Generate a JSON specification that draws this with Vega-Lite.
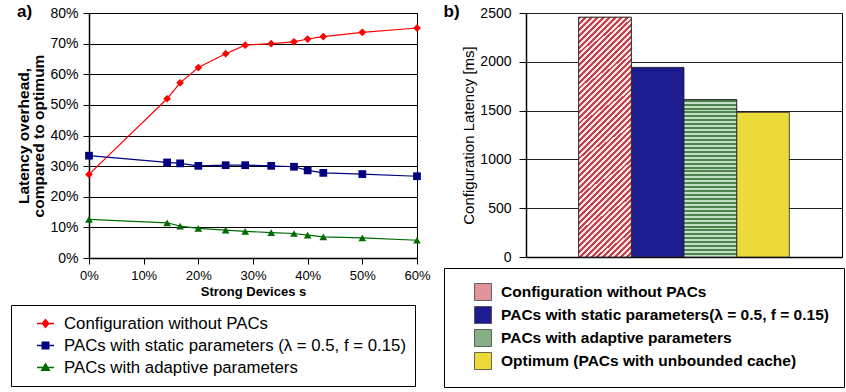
{
  "$schema": "https://vega.github.io/schema/vega-lite/v6.json",
  "padding": {"left": 10, "top": 2, "right": 0, "bottom": 0},
  "background": "white",
  "config": {
    "font": "Liberation Sans",
    "view": {"stroke": "#000", "strokeWidth": 1},
    "axis": {"domainColor": "#000", "tickColor": "#000", "gridColor": "#000", "labelColor": "#000", "titleColor": "#000", "labelFont": "Liberation Sans", "titleFont": "Liberation Sans", "domainWidth": 1.5, "tickWidth": 1},
    "legend": {"labelFont": "Liberation Sans", "labelColor": "#000"},
    "title": {"font": "Liberation Sans", "fontWeight": "bold", "fontSize": 17, "anchor": "start", "frame": "bounds", "color": "#000"}
  },
  "resolve": {"scale": {"color": "independent", "shape": "independent", "x": "independent", "y": "independent"}, "legend": {"color": "independent", "shape": "independent"}},
  "spacing": 12,
  "hconcat": [
    {
      "title": {"text": "a)", "dy": 15, "offset": 0},
      "width": 328,
      "height": 245,
      "data": {"values": [
        {"s": 0, "series": "Configuration without PACs", "overhead": 0.273},
        {"s": 0.1429, "series": "Configuration without PACs", "overhead": 0.52},
        {"s": 0.1667, "series": "Configuration without PACs", "overhead": 0.572},
        {"s": 0.2, "series": "Configuration without PACs", "overhead": 0.622},
        {"s": 0.25, "series": "Configuration without PACs", "overhead": 0.667},
        {"s": 0.2857, "series": "Configuration without PACs", "overhead": 0.695},
        {"s": 0.3333, "series": "Configuration without PACs", "overhead": 0.700},
        {"s": 0.375, "series": "Configuration without PACs", "overhead": 0.706},
        {"s": 0.4, "series": "Configuration without PACs", "overhead": 0.715},
        {"s": 0.4286, "series": "Configuration without PACs", "overhead": 0.723},
        {"s": 0.5, "series": "Configuration without PACs", "overhead": 0.737},
        {"s": 0.6, "series": "Configuration without PACs", "overhead": 0.751},
        {"s": 0, "series": "PACs with static parameters (λ = 0.5, f = 0.15)", "overhead": 0.334},
        {"s": 0.1429, "series": "PACs with static parameters (λ = 0.5, f = 0.15)", "overhead": 0.312},
        {"s": 0.1667, "series": "PACs with static parameters (λ = 0.5, f = 0.15)", "overhead": 0.309},
        {"s": 0.2, "series": "PACs with static parameters (λ = 0.5, f = 0.15)", "overhead": 0.301},
        {"s": 0.25, "series": "PACs with static parameters (λ = 0.5, f = 0.15)", "overhead": 0.303},
        {"s": 0.2857, "series": "PACs with static parameters (λ = 0.5, f = 0.15)", "overhead": 0.303},
        {"s": 0.3333, "series": "PACs with static parameters (λ = 0.5, f = 0.15)", "overhead": 0.301},
        {"s": 0.375, "series": "PACs with static parameters (λ = 0.5, f = 0.15)", "overhead": 0.298},
        {"s": 0.4, "series": "PACs with static parameters (λ = 0.5, f = 0.15)", "overhead": 0.286},
        {"s": 0.4286, "series": "PACs with static parameters (λ = 0.5, f = 0.15)", "overhead": 0.278},
        {"s": 0.5, "series": "PACs with static parameters (λ = 0.5, f = 0.15)", "overhead": 0.274},
        {"s": 0.6, "series": "PACs with static parameters (λ = 0.5, f = 0.15)", "overhead": 0.267},
        {"s": 0, "series": "PACs with adaptive parameters", "overhead": 0.126},
        {"s": 0.1429, "series": "PACs with adaptive parameters", "overhead": 0.115},
        {"s": 0.1667, "series": "PACs with adaptive parameters", "overhead": 0.104},
        {"s": 0.2, "series": "PACs with adaptive parameters", "overhead": 0.097},
        {"s": 0.25, "series": "PACs with adaptive parameters", "overhead": 0.091},
        {"s": 0.2857, "series": "PACs with adaptive parameters", "overhead": 0.087},
        {"s": 0.3333, "series": "PACs with adaptive parameters", "overhead": 0.083},
        {"s": 0.375, "series": "PACs with adaptive parameters", "overhead": 0.080},
        {"s": 0.4, "series": "PACs with adaptive parameters", "overhead": 0.075},
        {"s": 0.4286, "series": "PACs with adaptive parameters", "overhead": 0.069},
        {"s": 0.5, "series": "PACs with adaptive parameters", "overhead": 0.066},
        {"s": 0.6, "series": "PACs with adaptive parameters", "overhead": 0.058}
      ]},
      "encoding": {
        "x": {"field": "s", "type": "quantitative",
          "scale": {"domain": [0, 0.6], "nice": false, "zero": false},
          "axis": {"format": ".0%", "values": [0, 0.1, 0.2, 0.3, 0.4, 0.5, 0.6], "grid": false, "tickSize": 6, "labelFontSize": 13, "labelPadding": 5, "labelFlush": false, "title": "Strong Devices s", "titleFontSize": 13, "titleFontWeight": "bold", "titlePadding": 3}},
        "y": {"field": "overhead", "type": "quantitative",
          "scale": {"domain": [0, 0.8], "nice": false},
          "axis": {"format": ".0%", "values": [0, 0.1, 0.2, 0.3, 0.4, 0.5, 0.6, 0.7, 0.8], "grid": true, "gridColor": "#000", "gridWidth": 1, "tickSize": 6, "labelFontSize": 14, "labelPadding": 5, "title": ["Latency overhead,", "compared to optimum"], "titleFontSize": 15.5, "titleFontWeight": "bold", "titleLineHeight": 15, "titlePadding": 3}}
      },
      "layer": [
        {"mark": {"type": "line", "strokeWidth": 1.2},
         "encoding": {"color": {"field": "series", "type": "nominal",
           "scale": {"domain": ["Configuration without PACs", "PACs with static parameters (λ = 0.5, f = 0.15)", "PACs with adaptive parameters"], "range": ["#ff0000", "#000080", "#006b00"]},
           "legend": null}}},
        {"transform": [{"filter": "datum.series === 'Configuration without PACs'"}],
         "mark": {"type": "point", "shape": "diamond", "filled": true, "size": 60, "opacity": 1},
         "encoding": {"color": {"field": "series", "type": "nominal", "legend": null}}},
        {"transform": [{"filter": "datum.series === 'PACs with static parameters (λ = 0.5, f = 0.15)'"}],
         "mark": {"type": "point", "shape": "square", "filled": true, "size": 60, "opacity": 1},
         "encoding": {"color": {"field": "series", "type": "nominal", "legend": null}}},
        {"transform": [{"filter": "datum.series === 'PACs with adaptive parameters'"}],
         "mark": {"type": "point", "shape": "triangle-up", "filled": true, "size": 60, "opacity": 1},
         "encoding": {"color": {"field": "series", "type": "nominal", "legend": null}}},
        {"transform": [{"filter": "datum.s < 0"}],
         "mark": {"type": "point", "filled": false, "size": 60, "opacity": 1, "strokeWidth": 1.5},
         "encoding": {
           "stroke": {"field": "series", "type": "nominal",
             "scale": {"domain": ["Configuration without PACs", "PACs with static parameters (λ = 0.5, f = 0.15)", "PACs with adaptive parameters"], "range": ["#ff0000", "#000080", "#006b00"]},
             "legend": {"orient": "none", "legendX": -78, "legendY": 292, "title": null, "strokeColor": "#000", "fillColor": "#fff", "padding": 9, "symbolOffset": 16, "labelFontSize": 16.8, "labelOffset": 9, "symbolSize": 289, "symbolStrokeWidth": 1.5, "rowPadding": 3, "labelLimit": 1000,
               "symbolType": {"expr": "datum.value === 'Configuration without PACs' ? 'M-1,0H1M0,-0.45L0.38,0L0,0.45L-0.38,0ZM0,-0.3L0.25,0L0,0.3L-0.25,0ZM0,-0.15L0.12,0L0,0.15L-0.12,0Z' : datum.value === 'PACs with adaptive parameters' ? 'M-1,0H1M0,-0.42L0.44,0.32L-0.44,0.32ZM0,-0.24L0.25,0.18L-0.25,0.18ZM0,-0.08L0.08,0.06L-0.08,0.06Z' : 'M-1,0H1M-0.38,-0.38H0.38V0.38H-0.38ZM-0.25,-0.25H0.25V0.25H-0.25ZM-0.12,-0.12H0.12V0.12H-0.12Z'"}}}
         }}
      ]
    },
    {
      "title": {"text": "b)", "dy": 15, "offset": 0},
      "width": 316,
      "height": 244,
      "data": {"values": [
        {"series": "Configuration without PACs", "latency": 2456},
        {"series": "PACs with static parameters(λ = 0.5, f = 0.15)", "latency": 1943},
        {"series": "PACs with adaptive parameters", "latency": 1612},
        {"series": "Optimum (PACs with unbounded cache)", "latency": 1482}
      ]},
      "encoding": {
        "x": {"field": "series", "type": "nominal", "sort": null,
          "scale": {"domain": ["Configuration without PACs", "PACs with static parameters(λ = 0.5, f = 0.15)", "PACs with adaptive parameters", "Optimum (PACs with unbounded cache)"], "paddingInner": 0, "paddingOuter": 1.01},
          "axis": {"labels": false, "ticks": false, "title": null, "grid": false}},
        "y": {"field": "latency", "type": "quantitative",
          "scale": {"domain": [0, 2500], "nice": false},
          "axis": {"values": [0, 500, 1000, 1500, 2000, 2500], "format": "d", "grid": true, "gridColor": "#222", "tickSize": 7, "labelFontSize": 14, "labelPadding": 8, "title": "Configuration Latency [ms]", "titleFontSize": 15, "titleFontWeight": "normal", "titlePadding": 3}}
      },
      "layer": [
        {
          "mark": {"type": "bar", "stroke": "#222", "strokeWidth": 0.8},
          "encoding": {
            "color": {"field": "series", "type": "nominal",
              "scale": {"domain": ["Configuration without PACs", "PACs with static parameters(λ = 0.5, f = 0.15)", "PACs with adaptive parameters", "Optimum (PACs with unbounded cache)"], "range": ["#e0959b", "#1c1c8e", "#86af86", "#ecda3a"]},
              "legend": {"orient": "none", "legendX": -82, "legendY": 255, "title": null, "strokeColor": "#000", "fillColor": "#fff", "padding": 15, "symbolOffset": 15, "labelFontSize": 15.5, "labelFontWeight": "bold", "labelOffset": 9, "symbolType": "square", "symbolSize": 289, "symbolStrokeColor": "#444", "symbolStrokeWidth": 0.8, "rowPadding": 1, "labelLimit": 1000}
            }
          }
        },
        {
          "transform": [{"filter": "datum.series === 'Configuration without PACs'"}],
          "mark": {"type": "bar", "stroke": "#222", "strokeWidth": 0.8,
            "fill": {"gradient": "linear", "x1": 0, "y1": 0, "x2": 0.2527, "y2": 1.1625, "stops": [
              {"offset": 0, "color": "#c8404c"}, {"offset": 0.01, "color": "#c8404c"}, {"offset": 0.01, "color": "#f7e8e8"}, {"offset": 0.02, "color": "#f7e8e8"},
              {"offset": 0.02, "color": "#c8404c"}, {"offset": 0.03, "color": "#c8404c"}, {"offset": 0.03, "color": "#f7e8e8"}, {"offset": 0.04, "color": "#f7e8e8"},
              {"offset": 0.04, "color": "#c8404c"}, {"offset": 0.05, "color": "#c8404c"}, {"offset": 0.05, "color": "#f7e8e8"}, {"offset": 0.06, "color": "#f7e8e8"},
              {"offset": 0.06, "color": "#c8404c"}, {"offset": 0.07, "color": "#c8404c"}, {"offset": 0.07, "color": "#f7e8e8"}, {"offset": 0.08, "color": "#f7e8e8"},
              {"offset": 0.08, "color": "#c8404c"}, {"offset": 0.09, "color": "#c8404c"}, {"offset": 0.09, "color": "#f7e8e8"}, {"offset": 0.10, "color": "#f7e8e8"},
              {"offset": 0.10, "color": "#c8404c"}, {"offset": 0.11, "color": "#c8404c"}, {"offset": 0.11, "color": "#f7e8e8"}, {"offset": 0.12, "color": "#f7e8e8"},
              {"offset": 0.12, "color": "#c8404c"}, {"offset": 0.13, "color": "#c8404c"}, {"offset": 0.13, "color": "#f7e8e8"}, {"offset": 0.14, "color": "#f7e8e8"},
              {"offset": 0.14, "color": "#c8404c"}, {"offset": 0.15, "color": "#c8404c"}, {"offset": 0.15, "color": "#f7e8e8"}, {"offset": 0.16, "color": "#f7e8e8"},
              {"offset": 0.16, "color": "#c8404c"}, {"offset": 0.17, "color": "#c8404c"}, {"offset": 0.17, "color": "#f7e8e8"}, {"offset": 0.18, "color": "#f7e8e8"},
              {"offset": 0.18, "color": "#c8404c"}, {"offset": 0.19, "color": "#c8404c"}, {"offset": 0.19, "color": "#f7e8e8"}, {"offset": 0.20, "color": "#f7e8e8"},
              {"offset": 0.20, "color": "#c8404c"}, {"offset": 0.21, "color": "#c8404c"}, {"offset": 0.21, "color": "#f7e8e8"}, {"offset": 0.22, "color": "#f7e8e8"},
              {"offset": 0.22, "color": "#c8404c"}, {"offset": 0.23, "color": "#c8404c"}, {"offset": 0.23, "color": "#f7e8e8"}, {"offset": 0.24, "color": "#f7e8e8"},
              {"offset": 0.24, "color": "#c8404c"}, {"offset": 0.25, "color": "#c8404c"}, {"offset": 0.25, "color": "#f7e8e8"}, {"offset": 0.26, "color": "#f7e8e8"},
              {"offset": 0.26, "color": "#c8404c"}, {"offset": 0.27, "color": "#c8404c"}, {"offset": 0.27, "color": "#f7e8e8"}, {"offset": 0.28, "color": "#f7e8e8"},
              {"offset": 0.28, "color": "#c8404c"}, {"offset": 0.29, "color": "#c8404c"}, {"offset": 0.29, "color": "#f7e8e8"}, {"offset": 0.30, "color": "#f7e8e8"},
              {"offset": 0.30, "color": "#c8404c"}, {"offset": 0.31, "color": "#c8404c"}, {"offset": 0.31, "color": "#f7e8e8"}, {"offset": 0.32, "color": "#f7e8e8"},
              {"offset": 0.32, "color": "#c8404c"}, {"offset": 0.33, "color": "#c8404c"}, {"offset": 0.33, "color": "#f7e8e8"}, {"offset": 0.34, "color": "#f7e8e8"},
              {"offset": 0.34, "color": "#c8404c"}, {"offset": 0.35, "color": "#c8404c"}, {"offset": 0.35, "color": "#f7e8e8"}, {"offset": 0.36, "color": "#f7e8e8"},
              {"offset": 0.36, "color": "#c8404c"}, {"offset": 0.37, "color": "#c8404c"}, {"offset": 0.37, "color": "#f7e8e8"}, {"offset": 0.38, "color": "#f7e8e8"},
              {"offset": 0.38, "color": "#c8404c"}, {"offset": 0.39, "color": "#c8404c"}, {"offset": 0.39, "color": "#f7e8e8"}, {"offset": 0.40, "color": "#f7e8e8"},
              {"offset": 0.40, "color": "#c8404c"}, {"offset": 0.41, "color": "#c8404c"}, {"offset": 0.41, "color": "#f7e8e8"}, {"offset": 0.42, "color": "#f7e8e8"},
              {"offset": 0.42, "color": "#c8404c"}, {"offset": 0.43, "color": "#c8404c"}, {"offset": 0.43, "color": "#f7e8e8"}, {"offset": 0.44, "color": "#f7e8e8"},
              {"offset": 0.44, "color": "#c8404c"}, {"offset": 0.45, "color": "#c8404c"}, {"offset": 0.45, "color": "#f7e8e8"}, {"offset": 0.46, "color": "#f7e8e8"},
              {"offset": 0.46, "color": "#c8404c"}, {"offset": 0.47, "color": "#c8404c"}, {"offset": 0.47, "color": "#f7e8e8"}, {"offset": 0.48, "color": "#f7e8e8"},
              {"offset": 0.48, "color": "#c8404c"}, {"offset": 0.49, "color": "#c8404c"}, {"offset": 0.49, "color": "#f7e8e8"}, {"offset": 0.50, "color": "#f7e8e8"},
              {"offset": 0.50, "color": "#c8404c"}, {"offset": 0.51, "color": "#c8404c"}, {"offset": 0.51, "color": "#f7e8e8"}, {"offset": 0.52, "color": "#f7e8e8"},
              {"offset": 0.52, "color": "#c8404c"}, {"offset": 0.53, "color": "#c8404c"}, {"offset": 0.53, "color": "#f7e8e8"}, {"offset": 0.54, "color": "#f7e8e8"},
              {"offset": 0.54, "color": "#c8404c"}, {"offset": 0.55, "color": "#c8404c"}, {"offset": 0.55, "color": "#f7e8e8"}, {"offset": 0.56, "color": "#f7e8e8"},
              {"offset": 0.56, "color": "#c8404c"}, {"offset": 0.57, "color": "#c8404c"}, {"offset": 0.57, "color": "#f7e8e8"}, {"offset": 0.58, "color": "#f7e8e8"},
              {"offset": 0.58, "color": "#c8404c"}, {"offset": 0.59, "color": "#c8404c"}, {"offset": 0.59, "color": "#f7e8e8"}, {"offset": 0.60, "color": "#f7e8e8"},
              {"offset": 0.60, "color": "#c8404c"}, {"offset": 0.61, "color": "#c8404c"}, {"offset": 0.61, "color": "#f7e8e8"}, {"offset": 0.62, "color": "#f7e8e8"},
              {"offset": 0.62, "color": "#c8404c"}, {"offset": 0.63, "color": "#c8404c"}, {"offset": 0.63, "color": "#f7e8e8"}, {"offset": 0.64, "color": "#f7e8e8"},
              {"offset": 0.64, "color": "#c8404c"}, {"offset": 0.65, "color": "#c8404c"}, {"offset": 0.65, "color": "#f7e8e8"}, {"offset": 0.66, "color": "#f7e8e8"},
              {"offset": 0.66, "color": "#c8404c"}, {"offset": 0.67, "color": "#c8404c"}, {"offset": 0.67, "color": "#f7e8e8"}, {"offset": 0.68, "color": "#f7e8e8"},
              {"offset": 0.68, "color": "#c8404c"}, {"offset": 0.69, "color": "#c8404c"}, {"offset": 0.69, "color": "#f7e8e8"}, {"offset": 0.70, "color": "#f7e8e8"},
              {"offset": 0.70, "color": "#c8404c"}, {"offset": 0.71, "color": "#c8404c"}, {"offset": 0.71, "color": "#f7e8e8"}, {"offset": 0.72, "color": "#f7e8e8"},
              {"offset": 0.72, "color": "#c8404c"}, {"offset": 0.73, "color": "#c8404c"}, {"offset": 0.73, "color": "#f7e8e8"}, {"offset": 0.74, "color": "#f7e8e8"},
              {"offset": 0.74, "color": "#c8404c"}, {"offset": 0.75, "color": "#c8404c"}, {"offset": 0.75, "color": "#f7e8e8"}, {"offset": 0.76, "color": "#f7e8e8"},
              {"offset": 0.76, "color": "#c8404c"}, {"offset": 0.77, "color": "#c8404c"}, {"offset": 0.77, "color": "#f7e8e8"}, {"offset": 0.78, "color": "#f7e8e8"},
              {"offset": 0.78, "color": "#c8404c"}, {"offset": 0.79, "color": "#c8404c"}, {"offset": 0.79, "color": "#f7e8e8"}, {"offset": 0.80, "color": "#f7e8e8"},
              {"offset": 0.80, "color": "#c8404c"}, {"offset": 0.81, "color": "#c8404c"}, {"offset": 0.81, "color": "#f7e8e8"}, {"offset": 0.82, "color": "#f7e8e8"},
              {"offset": 0.82, "color": "#c8404c"}, {"offset": 0.83, "color": "#c8404c"}, {"offset": 0.83, "color": "#f7e8e8"}, {"offset": 0.84, "color": "#f7e8e8"},
              {"offset": 0.84, "color": "#c8404c"}, {"offset": 0.85, "color": "#c8404c"}, {"offset": 0.85, "color": "#f7e8e8"}, {"offset": 0.86, "color": "#f7e8e8"},
              {"offset": 0.86, "color": "#c8404c"}, {"offset": 0.87, "color": "#c8404c"}, {"offset": 0.87, "color": "#f7e8e8"}, {"offset": 0.88, "color": "#f7e8e8"},
              {"offset": 0.88, "color": "#c8404c"}, {"offset": 0.89, "color": "#c8404c"}, {"offset": 0.89, "color": "#f7e8e8"}, {"offset": 0.90, "color": "#f7e8e8"},
              {"offset": 0.90, "color": "#c8404c"}, {"offset": 0.91, "color": "#c8404c"}, {"offset": 0.91, "color": "#f7e8e8"}, {"offset": 0.92, "color": "#f7e8e8"},
              {"offset": 0.92, "color": "#c8404c"}, {"offset": 0.93, "color": "#c8404c"}, {"offset": 0.93, "color": "#f7e8e8"}, {"offset": 0.94, "color": "#f7e8e8"},
              {"offset": 0.94, "color": "#c8404c"}, {"offset": 0.95, "color": "#c8404c"}, {"offset": 0.95, "color": "#f7e8e8"}, {"offset": 0.96, "color": "#f7e8e8"},
              {"offset": 0.96, "color": "#c8404c"}, {"offset": 0.97, "color": "#c8404c"}, {"offset": 0.97, "color": "#f7e8e8"}, {"offset": 0.98, "color": "#f7e8e8"},
              {"offset": 0.98, "color": "#c8404c"}, {"offset": 0.99, "color": "#c8404c"}, {"offset": 0.99, "color": "#f7e8e8"}, {"offset": 1, "color": "#f7e8e8"}
            ]}}
        },
        {
          "transform": [{"filter": "datum.series === 'PACs with adaptive parameters'"}],
          "mark": {"type": "bar", "stroke": "#222", "strokeWidth": 0.8,
            "fill": {"gradient": "linear", "x1": 0, "y1": 0, "x2": 0, "y2": 1, "stops": [
              {"offset": 0, "color": "#4e824e"}, {"offset": 0.0125, "color": "#4e824e"}, {"offset": 0.0125, "color": "#c4e0c4"}, {"offset": 0.025, "color": "#c4e0c4"},
              {"offset": 0.025, "color": "#4e824e"}, {"offset": 0.0375, "color": "#4e824e"}, {"offset": 0.0375, "color": "#c4e0c4"}, {"offset": 0.05, "color": "#c4e0c4"},
              {"offset": 0.05, "color": "#4e824e"}, {"offset": 0.0625, "color": "#4e824e"}, {"offset": 0.0625, "color": "#c4e0c4"}, {"offset": 0.075, "color": "#c4e0c4"},
              {"offset": 0.075, "color": "#4e824e"}, {"offset": 0.0875, "color": "#4e824e"}, {"offset": 0.0875, "color": "#c4e0c4"}, {"offset": 0.1, "color": "#c4e0c4"},
              {"offset": 0.1, "color": "#4e824e"}, {"offset": 0.1125, "color": "#4e824e"}, {"offset": 0.1125, "color": "#c4e0c4"}, {"offset": 0.125, "color": "#c4e0c4"},
              {"offset": 0.125, "color": "#4e824e"}, {"offset": 0.1375, "color": "#4e824e"}, {"offset": 0.1375, "color": "#c4e0c4"}, {"offset": 0.15, "color": "#c4e0c4"},
              {"offset": 0.15, "color": "#4e824e"}, {"offset": 0.1625, "color": "#4e824e"}, {"offset": 0.1625, "color": "#c4e0c4"}, {"offset": 0.175, "color": "#c4e0c4"},
              {"offset": 0.175, "color": "#4e824e"}, {"offset": 0.1875, "color": "#4e824e"}, {"offset": 0.1875, "color": "#c4e0c4"}, {"offset": 0.2, "color": "#c4e0c4"},
              {"offset": 0.2, "color": "#4e824e"}, {"offset": 0.2125, "color": "#4e824e"}, {"offset": 0.2125, "color": "#c4e0c4"}, {"offset": 0.225, "color": "#c4e0c4"},
              {"offset": 0.225, "color": "#4e824e"}, {"offset": 0.2375, "color": "#4e824e"}, {"offset": 0.2375, "color": "#c4e0c4"}, {"offset": 0.25, "color": "#c4e0c4"},
              {"offset": 0.25, "color": "#4e824e"}, {"offset": 0.2625, "color": "#4e824e"}, {"offset": 0.2625, "color": "#c4e0c4"}, {"offset": 0.275, "color": "#c4e0c4"},
              {"offset": 0.275, "color": "#4e824e"}, {"offset": 0.2875, "color": "#4e824e"}, {"offset": 0.2875, "color": "#c4e0c4"}, {"offset": 0.3, "color": "#c4e0c4"},
              {"offset": 0.3, "color": "#4e824e"}, {"offset": 0.3125, "color": "#4e824e"}, {"offset": 0.3125, "color": "#c4e0c4"}, {"offset": 0.325, "color": "#c4e0c4"},
              {"offset": 0.325, "color": "#4e824e"}, {"offset": 0.3375, "color": "#4e824e"}, {"offset": 0.3375, "color": "#c4e0c4"}, {"offset": 0.35, "color": "#c4e0c4"},
              {"offset": 0.35, "color": "#4e824e"}, {"offset": 0.3625, "color": "#4e824e"}, {"offset": 0.3625, "color": "#c4e0c4"}, {"offset": 0.375, "color": "#c4e0c4"},
              {"offset": 0.375, "color": "#4e824e"}, {"offset": 0.3875, "color": "#4e824e"}, {"offset": 0.3875, "color": "#c4e0c4"}, {"offset": 0.4, "color": "#c4e0c4"},
              {"offset": 0.4, "color": "#4e824e"}, {"offset": 0.4125, "color": "#4e824e"}, {"offset": 0.4125, "color": "#c4e0c4"}, {"offset": 0.425, "color": "#c4e0c4"},
              {"offset": 0.425, "color": "#4e824e"}, {"offset": 0.4375, "color": "#4e824e"}, {"offset": 0.4375, "color": "#c4e0c4"}, {"offset": 0.45, "color": "#c4e0c4"},
              {"offset": 0.45, "color": "#4e824e"}, {"offset": 0.4625, "color": "#4e824e"}, {"offset": 0.4625, "color": "#c4e0c4"}, {"offset": 0.475, "color": "#c4e0c4"},
              {"offset": 0.475, "color": "#4e824e"}, {"offset": 0.4875, "color": "#4e824e"}, {"offset": 0.4875, "color": "#c4e0c4"}, {"offset": 0.5, "color": "#c4e0c4"},
              {"offset": 0.5, "color": "#4e824e"}, {"offset": 0.5125, "color": "#4e824e"}, {"offset": 0.5125, "color": "#c4e0c4"}, {"offset": 0.525, "color": "#c4e0c4"},
              {"offset": 0.525, "color": "#4e824e"}, {"offset": 0.5375, "color": "#4e824e"}, {"offset": 0.5375, "color": "#c4e0c4"}, {"offset": 0.55, "color": "#c4e0c4"},
              {"offset": 0.55, "color": "#4e824e"}, {"offset": 0.5625, "color": "#4e824e"}, {"offset": 0.5625, "color": "#c4e0c4"}, {"offset": 0.575, "color": "#c4e0c4"},
              {"offset": 0.575, "color": "#4e824e"}, {"offset": 0.5875, "color": "#4e824e"}, {"offset": 0.5875, "color": "#c4e0c4"}, {"offset": 0.6, "color": "#c4e0c4"},
              {"offset": 0.6, "color": "#4e824e"}, {"offset": 0.6125, "color": "#4e824e"}, {"offset": 0.6125, "color": "#c4e0c4"}, {"offset": 0.625, "color": "#c4e0c4"},
              {"offset": 0.625, "color": "#4e824e"}, {"offset": 0.6375, "color": "#4e824e"}, {"offset": 0.6375, "color": "#c4e0c4"}, {"offset": 0.65, "color": "#c4e0c4"},
              {"offset": 0.65, "color": "#4e824e"}, {"offset": 0.6625, "color": "#4e824e"}, {"offset": 0.6625, "color": "#c4e0c4"}, {"offset": 0.675, "color": "#c4e0c4"},
              {"offset": 0.675, "color": "#4e824e"}, {"offset": 0.6875, "color": "#4e824e"}, {"offset": 0.6875, "color": "#c4e0c4"}, {"offset": 0.7, "color": "#c4e0c4"},
              {"offset": 0.7, "color": "#4e824e"}, {"offset": 0.7125, "color": "#4e824e"}, {"offset": 0.7125, "color": "#c4e0c4"}, {"offset": 0.725, "color": "#c4e0c4"},
              {"offset": 0.725, "color": "#4e824e"}, {"offset": 0.7375, "color": "#4e824e"}, {"offset": 0.7375, "color": "#c4e0c4"}, {"offset": 0.75, "color": "#c4e0c4"},
              {"offset": 0.75, "color": "#4e824e"}, {"offset": 0.7625, "color": "#4e824e"}, {"offset": 0.7625, "color": "#c4e0c4"}, {"offset": 0.775, "color": "#c4e0c4"},
              {"offset": 0.775, "color": "#4e824e"}, {"offset": 0.7875, "color": "#4e824e"}, {"offset": 0.7875, "color": "#c4e0c4"}, {"offset": 0.8, "color": "#c4e0c4"},
              {"offset": 0.8, "color": "#4e824e"}, {"offset": 0.8125, "color": "#4e824e"}, {"offset": 0.8125, "color": "#c4e0c4"}, {"offset": 0.825, "color": "#c4e0c4"},
              {"offset": 0.825, "color": "#4e824e"}, {"offset": 0.8375, "color": "#4e824e"}, {"offset": 0.8375, "color": "#c4e0c4"}, {"offset": 0.85, "color": "#c4e0c4"},
              {"offset": 0.85, "color": "#4e824e"}, {"offset": 0.8625, "color": "#4e824e"}, {"offset": 0.8625, "color": "#c4e0c4"}, {"offset": 0.875, "color": "#c4e0c4"},
              {"offset": 0.875, "color": "#4e824e"}, {"offset": 0.8875, "color": "#4e824e"}, {"offset": 0.8875, "color": "#c4e0c4"}, {"offset": 0.9, "color": "#c4e0c4"},
              {"offset": 0.9, "color": "#4e824e"}, {"offset": 0.9125, "color": "#4e824e"}, {"offset": 0.9125, "color": "#c4e0c4"}, {"offset": 0.925, "color": "#c4e0c4"},
              {"offset": 0.925, "color": "#4e824e"}, {"offset": 0.9375, "color": "#4e824e"}, {"offset": 0.9375, "color": "#c4e0c4"}, {"offset": 0.95, "color": "#c4e0c4"},
              {"offset": 0.95, "color": "#4e824e"}, {"offset": 0.9625, "color": "#4e824e"}, {"offset": 0.9625, "color": "#c4e0c4"}, {"offset": 0.975, "color": "#c4e0c4"},
              {"offset": 0.975, "color": "#4e824e"}, {"offset": 0.9875, "color": "#4e824e"}, {"offset": 0.9875, "color": "#c4e0c4"}, {"offset": 1, "color": "#c4e0c4"}
            ]}}
        }
      ]
    }
  ]
}
